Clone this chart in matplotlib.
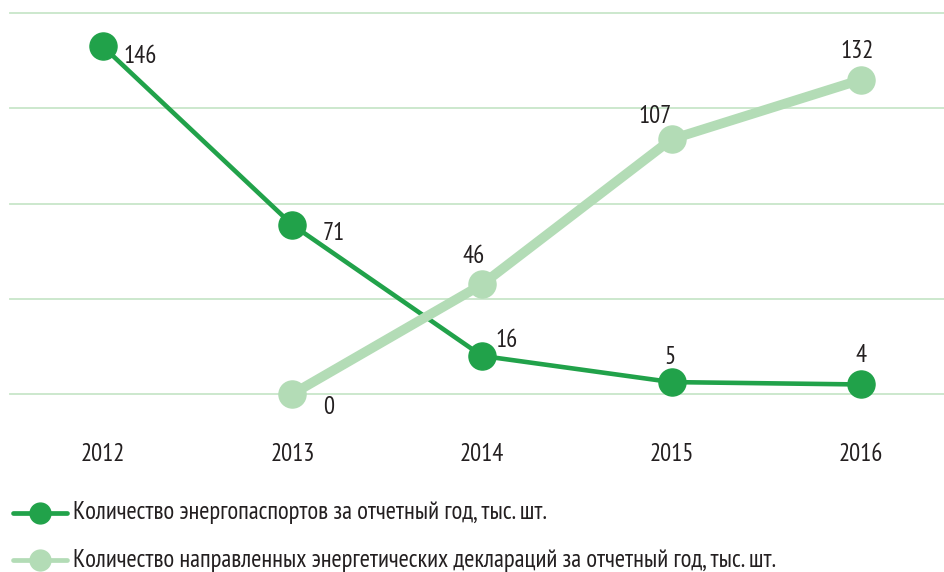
import matplotlib
matplotlib.use('Agg')
from matplotlib import pyplot as plt
from matplotlib.lines import Line2D

years = [2012, 2013, 2014, 2015, 2016]
passports = [146, 71, 16, 5, 4]
declarations = [None, 0, 46, 107, 132]
label_passports = 'Количество энергопаспортов за отчетный год, тыс. шт.'
label_declarations = 'Количество направленных энергетических деклараций за отчетный год, тыс. шт.'

dark = '#21a24a'
light = '#b3dcb6'
grid_color = '#c8e6c9'
text_color = '#231f20'

plt.rcParams['font.family'] = ['PT Sans Narrow', 'Roboto Condensed', 'DejaVu Sans']
fs = 17.7

fig = plt.figure(figsize=(9.44, 5.72), dpi=100)
ax = fig.add_axes([10/944, 1-394/572, 934/944, (394-13)/572])

decl_x = [y for y, v in zip(years, declarations) if v is not None]
decl_y = [v for v in declarations if v is not None]

ax.plot(years, passports, color=dark, lw=3.3, marker='o', ms=19.5,
        clip_on=False, zorder=3)
ax.plot(decl_x, decl_y, color=light, lw=7, marker='o', ms=19.5,
        solid_capstyle='round', clip_on=False, zorder=4)

# label offsets in pixels from the point (x right, y up)
off_p = [(37, -10), (41, -9), (25, 15), (-2, 25), (0, 29)]
off_d = [None, (36, -13), (-8, 28), (-17, 23), (-4, 28)]
for x, v, o in zip(years, passports, off_p):
    ax.annotate(str(v), (x, v), xytext=(o[0]*0.72, o[1]*0.72), textcoords='offset points',
                ha='center', va='center', color=text_color, fontsize=fs, zorder=5)
for x, v, o in zip(years, declarations, off_d):
    if v is None:
        continue
    ax.annotate(str(v), (x, v), xytext=(o[0]*0.72, o[1]*0.72), textcoords='offset points',
                ha='center', va='center', color=text_color, fontsize=fs, zorder=5)

ax.set_xlim(2012 - 93/190, 2016 + 83/190)
ax.set_ylim(0, 160)
ax.set_yticks([0, 40, 80, 120, 160])
ax.yaxis.grid(True, color=grid_color, lw=1.3)
for gl in ax.get_ygridlines():
    gl.set_clip_on(False)
ax.set_axisbelow(True)
ax.set_yticklabels([])
ax.tick_params(axis='y', length=0)
ax.set_xticks(years)
ax.set_xticklabels([str(y) for y in years], color=text_color, fontsize=fs)
ax.tick_params(axis='x', length=0, pad=35)
for s in ax.spines.values():
    s.set_visible(False)

# legend rows drawn by hand to sit where the original has them
for col, lab, ypx in [(dark, label_passports, 513), (light, label_declarations, 560)]:
    yf = 1 - ypx/572
    fig.add_artist(Line2D([13/944, 67/944], [yf, yf], color=col, lw=3.4,
                          solid_capstyle='round'))
    fig.add_artist(Line2D([40/944], [yf], color=col, marker='o', ms=15, lw=0))
    fig.text(73/944, yf, lab, fontsize=fs, color=text_color, va='center', ha='left')

fig.savefig('out.png', dpi=100)
